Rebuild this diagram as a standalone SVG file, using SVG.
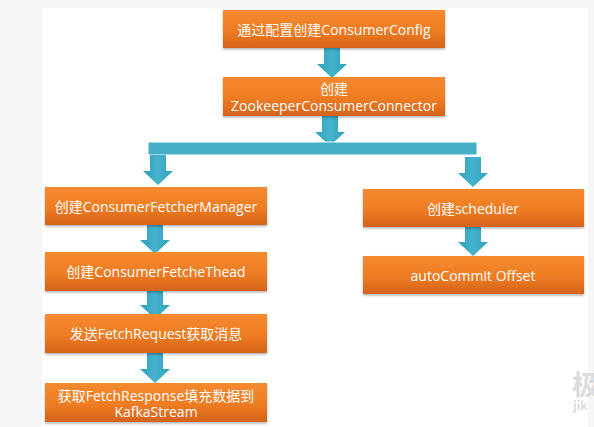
<svg xmlns="http://www.w3.org/2000/svg" width="594" height="427" viewBox="0 0 594 427">
<defs>
<linearGradient id="og" x1="0" y1="0" x2="0" y2="1">
<stop offset="0" stop-color="#f68a30"/>
<stop offset="0.55" stop-color="#ef7c22"/>
<stop offset="1" stop-color="#d4631a"/>
</linearGradient>
<linearGradient id="tg" x1="0" y1="0" x2="1" y2="0">
<stop offset="0" stop-color="#2f9fbb"/>
<stop offset="0.5" stop-color="#45b3cd"/>
<stop offset="1" stop-color="#2f9fbb"/>
</linearGradient>
<filter id="sh" x="-5%" y="-10%" width="110%" height="130%">
<feDropShadow dx="0" dy="1.5" stdDeviation="1.2" flood-color="#000" flood-opacity="0.3"/>
</filter>
<path id="arr" d="M-8,0 H8 V16 H15 L0,30 L-15,16 H-8 Z"/>
</defs>
<style>
.box{fill:url(#og);filter:url(#sh)}
.t{fill:#fff;font-family:"Open Sans","Noto Sans CJK SC",sans-serif;font-size:14px;text-anchor:middle;dominant-baseline:central}
.a{fill:url(#tg)}
.wm{fill:#dcdcdc;font-family:"Noto Sans CJK SC",sans-serif;font-weight:bold}
</style>
<rect width="594" height="427" fill="#f6f6f6"/>
<rect x="42" y="8" width="546" height="419" fill="#ffffff"/>
<g id="connectors">
<use href="#arr" x="332" y="48" class="a"/>
<use href="#arr" x="330" y="116" class="a"/>
<rect x="148" y="142" width="329" height="13" fill="#45afc8" stroke="#ffffff" stroke-width="1"/>
<use href="#arr" x="158" y="155" class="a"/>
<use href="#arr" x="473" y="157" class="a"/>
<use href="#arr" x="155" y="224" class="a"/>
<use href="#arr" x="155" y="289" class="a"/>
<use href="#arr" x="155" y="353" class="a"/>
<use href="#arr" x="473" y="226" class="a"/>
</g>
<g id="n1"><rect class="box" x="223" y="10" width="222" height="38"/><text class="t" x="334" y="29">通过配置创建ConsumerConfig</text></g>
<g id="n2"><rect class="box" x="223" y="77" width="222" height="39"/><text class="t" x="334" y="88">创建<tspan x="334" dy="17">ZookeeperConsumerConnector</tspan></text></g>
<g id="n3"><rect class="box" x="45" y="187" width="222" height="38"/><text class="t" x="156" y="206">创建ConsumerFetcherManager</text></g>
<g id="n4"><rect class="box" x="45" y="252" width="222" height="39"/><text class="t" x="156" y="271">创建ConsumerFetcheThead</text></g>
<g id="n5"><rect class="box" x="45" y="314" width="222" height="39"/><text class="t" x="156" y="333">发送FetchRequest获取消息</text></g>
<g id="n6"><rect class="box" x="45" y="383" width="222" height="39"/><text class="t" x="156" y="395">获取FetchResponse填充数据到<tspan x="156" dy="16">KafkaStream</tspan></text></g>
<g id="n7"><rect class="box" x="363" y="189" width="221" height="38"/><text class="t" x="473" y="208">创建scheduler</text></g>
<g id="n8"><rect class="box" x="363" y="256" width="221" height="38"/><text class="t" x="473" y="275">autoCommit Offset</text></g>
<text class="wm" x="572" y="395" font-size="27">极</text>
<text class="wm" x="573" y="410" font-size="12">jik</text>
</svg>
